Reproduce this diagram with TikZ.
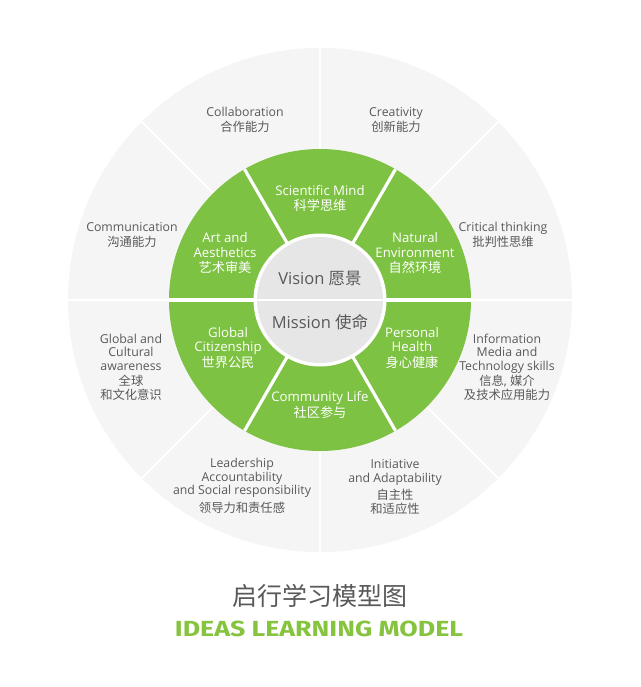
\documentclass[tikz,border=0pt]{standalone}
\usepackage{graphicx}
\usepackage{fontspec}
\setmainfont{Open Sans}
\newfontfamily\cjk{Noto Sans CJK SC}
\newfontfamily\titlefont{Fira Sans}
\definecolor{ringgrey}{HTML}{F5F5F5}
\definecolor{coregrey}{HTML}{E6E6E6}
\definecolor{leafgreen}{HTML}{7DC242}
\definecolor{titlegreen}{HTML}{86C43F}
\definecolor{txtgrey}{HTML}{595959}
\begin{document}
\begin{tikzpicture}[x=1pt,y=-1pt,
  outerlab/.style={align=center, text=txtgrey, inner sep=0pt, font=\fontsize{12.3}{13.5}\selectfont},
  innerlab/.style={align=center, text=white, inner sep=0pt, font=\fontsize{13.2}{14.5}\selectfont},
  corelab/.style={text=txtgrey, inner sep=0pt, font=\fontsize{16.5}{18}\selectfont},
  divider/.style={white, line width=2pt},
  gdivider/.style={white, line width=3.2pt}]
\useasboundingbox (0,0) rectangle (640,687);
\fill[white] (0,0) rectangle (640,687);
\coordinate (c) at (320,300);
% outer ring
\fill[ringgrey] (c) circle (252pt);
\foreach \a in {0,45,...,315} \draw[divider] (c) -- ++(\a:252pt);
% green ring
\fill[leafgreen] (c) circle (151pt);
\foreach \a in {0,60,...,300} \draw[gdivider] (c) -- ++(\a:151pt);
% core
\fill[white] (c) circle (66.5pt);
\fill[coregrey] (c) circle (63pt);
\draw[white, line width=2.5pt] ([xshift=-252pt]c) -- ([xshift=252pt]c);

% outer labels
\node[outerlab] (collab) at (245,120) {Collaboration\\[2pt]{\cjk 合作能力}};
\node[outerlab] (creat) at (396,120) {Creativity\\[2pt]{\cjk 创新能力}};
\node[outerlab] (comm) at (132,235) {Communication\\[2pt]{\cjk 沟通能力}};
\node[outerlab] (crit) at (503,235) {Critical thinking\\[2pt]{\cjk 批判性思维}};
\node[outerlab] (glob) at (131,367) {Global and\\Cultural\\awareness\\[2pt]{\cjk 全球}\\{\cjk 和文化意识}};
\node[outerlab] (info) at (507,367) {Information\\Media and\\Technology skills\\[2pt]{\cjk 信息}, {\cjk 媒介}\\{\cjk 及技术应用能力}};
\node[outerlab] (lead) at (242,486) {Leadership\\Accountability\\and Social responsibility\\[4pt]{\cjk 领导力和责任感}};
\node[outerlab] (init) at (395,487) {Initiative\\and Adaptability\\[4pt]{\cjk 自主性}\\{\cjk 和适应性}};

% green labels
\node[innerlab] (sci) at (320,198.5) {Scientific Mind\\[1pt]{\cjk 科学思维}};
\node[innerlab] (art) at (225,253.5) {Art and\\Aesthetics\\[1pt]{\cjk 艺术审美}};
\node[innerlab] (nat) at (415,253.5) {Natural\\Environment\\[1pt]{\cjk 自然环境}};
\node[innerlab] (gcit) at (228,348) {Global\\Citizenship\\[1pt]{\cjk 世界公民}};
\node[innerlab] (pers) at (412,348) {Personal\\Health\\[1pt]{\cjk 身心健康}};
\node[innerlab] (commu) at (320,405) {Community Life\\[1pt]{\cjk 社区参与}};

% core labels
\node[corelab] (vision) at (320,279) {Vision {\cjk 愿景}};
\node[corelab] (mission) at (320,322) {Mission {\cjk 使命}};

% title
\node[text=txtgrey, inner sep=0pt, font=\fontsize{25}{28}\selectfont] (cntitle) at (320,596) {\cjk 启行学习模型图};
\node[text=titlegreen, inner sep=0pt] (entitle) at (319,628.5) {\resizebox{288pt}{15.5pt}{\titlefont\bfseries IDEAS LEARNING MODEL}};
\end{tikzpicture}
\end{document}
